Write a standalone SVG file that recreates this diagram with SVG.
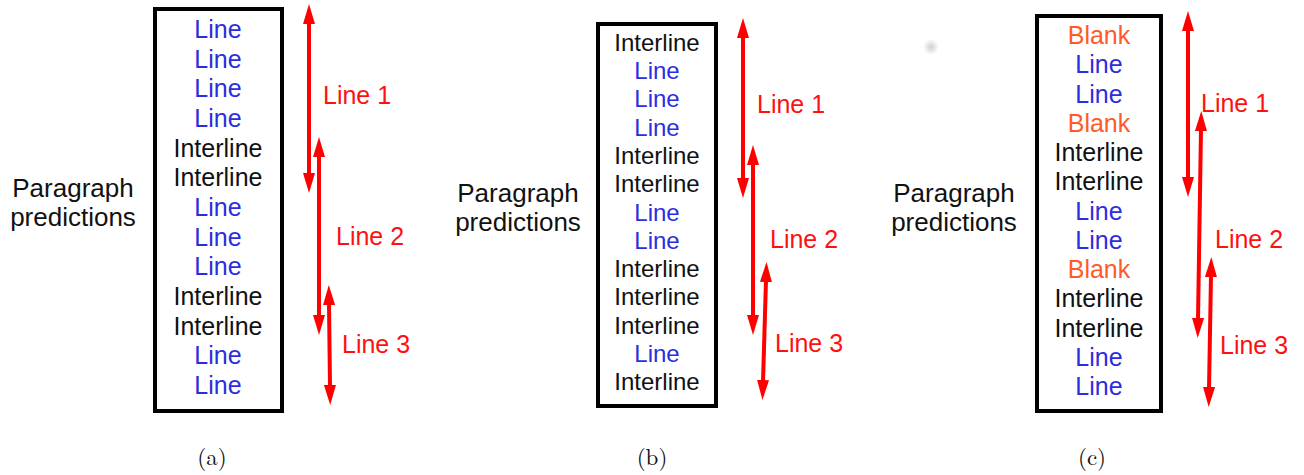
<svg xmlns="http://www.w3.org/2000/svg" width="1304" height="475" viewBox="0 0 1304 475">
<style>
text{font-family:"Liberation Sans",Arial,sans-serif;}
.box{fill:none;stroke:#000;stroke-width:4;}
.c{text-anchor:middle;}
.ln{fill:#2d2de0;}
.il{fill:#111;}
.bk{fill:#ff5a28;}
.lab{fill:#ff1010;font-size:25px;}
.pp{fill:#111;font-size:26px;text-anchor:middle;}
.cap{font-family:"Latin Modern Roman","DejaVu Serif","Liberation Serif",serif;font-size:23px;fill:#111;text-anchor:middle;}
.arr{stroke:#ff0000;stroke-width:4;fill:none;marker-start:url(#ah);marker-end:url(#ah);}
</style>
<defs>
<marker id="ah" viewBox="0 0 20 12" refX="2" refY="6" markerWidth="20" markerHeight="12" markerUnits="userSpaceOnUse" orient="auto-start-reverse">
<path d="M0,0 L20,6 L0,12 z" fill="#ff0000"/>
</marker>
<radialGradient id="smudge">
<stop offset="0" stop-color="#bbb" stop-opacity="0.7"/>
<stop offset="1" stop-color="#bbb" stop-opacity="0"/>
</radialGradient>
</defs>
<circle cx="931" cy="47" r="8" fill="url(#smudge)"/>
<g id="panel-a">
<g id="a-label"><text class="pp" x="73" y="197">Paragraph</text><text class="pp" x="73" y="226">predictions</text></g>
<g id="a-box">
<rect class="box" x="155" y="9" width="127" height="402"/>
<g class="c" font-size="25">
<text class="ln" x="218" y="38">Line</text>
<text class="ln" x="218" y="67.7">Line</text>
<text class="ln" x="218" y="97.3">Line</text>
<text class="ln" x="218" y="127">Line</text>
<text class="il" x="218" y="156.7">Interline</text>
<text class="il" x="218" y="186.3">Interline</text>
<text class="ln" x="218" y="216">Line</text>
<text class="ln" x="218" y="245.7">Line</text>
<text class="ln" x="218" y="275.3">Line</text>
<text class="il" x="218" y="305">Interline</text>
<text class="il" x="218" y="334.7">Interline</text>
<text class="ln" x="218" y="364.3">Line</text>
<text class="ln" x="218" y="394">Line</text>
</g>
</g>
<g id="a-l1"><text class="lab" x="323" y="104">Line 1</text></g>
<g id="a-l2"><text class="lab" x="336" y="245">Line 2</text></g>
<g id="a-l3"><text class="lab" x="342" y="353">Line 3</text></g>
<text class="cap" x="212" y="465">(a)</text>
</g>
<g id="panel-b">
<g id="b-label"><text class="pp" x="518" y="202">Paragraph</text><text class="pp" x="518" y="231">predictions</text></g>
<g id="b-box">
<rect class="box" x="598" y="24" width="118" height="382"/>
<g class="c" font-size="24">
<text class="il" x="657" y="50.7">Interline</text>
<text class="ln" x="657" y="79">Line</text>
<text class="ln" x="657" y="107.3">Line</text>
<text class="ln" x="657" y="135.6">Line</text>
<text class="il" x="657" y="163.9">Interline</text>
<text class="il" x="657" y="192.2">Interline</text>
<text class="ln" x="657" y="220.5">Line</text>
<text class="ln" x="657" y="248.8">Line</text>
<text class="il" x="657" y="277.1">Interline</text>
<text class="il" x="657" y="305.4">Interline</text>
<text class="il" x="657" y="333.7">Interline</text>
<text class="ln" x="657" y="362">Line</text>
<text class="il" x="657" y="390.3">Interline</text>
</g>
</g>
<g id="b-l1"><text class="lab" x="757" y="113">Line 1</text></g>
<g id="b-l2"><text class="lab" x="770" y="248">Line 2</text></g>
<g id="b-l3"><text class="lab" x="775" y="352">Line 3</text></g>
<text class="cap" x="652" y="465">(b)</text>
</g>
<g id="panel-c">
<g id="c-label"><text class="pp" x="954" y="202">Paragraph</text><text class="pp" x="954" y="231">predictions</text></g>
<g id="c-box">
<rect class="box" x="1037" y="16" width="124" height="395"/>
<g class="c" font-size="25">
<text class="bk" x="1099" y="44">Blank</text>
<text class="ln" x="1099" y="73.3">Line</text>
<text class="ln" x="1099" y="102.5">Line</text>
<text class="bk" x="1099" y="131.8">Blank</text>
<text class="il" x="1099" y="161">Interline</text>
<text class="il" x="1099" y="190.3">Interline</text>
<text class="ln" x="1099" y="219.5">Line</text>
<text class="ln" x="1099" y="248.8">Line</text>
<text class="bk" x="1099" y="278">Blank</text>
<text class="il" x="1099" y="307.3">Interline</text>
<text class="il" x="1099" y="336.5">Interline</text>
<text class="ln" x="1099" y="365.8">Line</text>
<text class="ln" x="1099" y="395">Line</text>
</g>
</g>
<g id="c-l1"><text class="lab" x="1201" y="112">Line 1</text></g>
<g id="c-l2"><text class="lab" x="1215" y="248">Line 2</text></g>
<g id="c-l3"><text class="lab" x="1220" y="354">Line 3</text></g>
<text class="cap" x="1092" y="465">(c)</text>
</g>
<g id="connectors">
<line class="arr" x1="309" y1="22" x2="309" y2="175"/>
<line class="arr" x1="319" y1="155" x2="319" y2="317"/>
<line class="arr" x1="329" y1="303" x2="330" y2="387"/>
<line class="arr" x1="743" y1="36" x2="743" y2="180"/>
<line class="arr" x1="753" y1="163" x2="753" y2="317"/>
<line class="arr" x1="766" y1="280" x2="763" y2="382"/>
<line class="arr" x1="1188" y1="29" x2="1188" y2="179"/>
<line class="arr" x1="1201" y1="129" x2="1198" y2="320"/>
<line class="arr" x1="1211" y1="275" x2="1209" y2="389"/>
</g>
</svg>
